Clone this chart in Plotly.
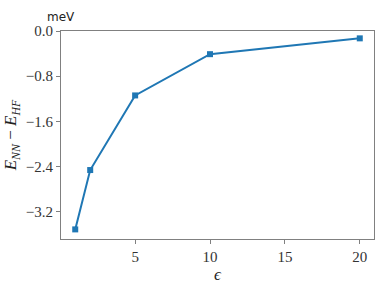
import plotly.graph_objects as go

eps = [1, 2, 5, 10, 20]
energy = [-3.51, -2.46, -1.14, -0.41, -0.13]
y_ticks = [0.0, -0.8, -1.6, -2.4, -3.2]
y_ticklabels = ["0.0", "\u22120.8", "\u22121.6", "\u22122.4", "\u22123.2"]
x_ticks = [5, 10, 15, 20]

fig = go.Figure()
fig.add_trace(go.Scatter(
    x=eps, y=energy, mode="lines+markers",
    line=dict(color="#1f77b4", width=2),
    marker=dict(symbol="square", size=6, color="#1f77b4"),
))

serif = "serif"
fig.update_layout(
    width=384, height=288,
    margin=dict(l=61, r=10, t=31, b=49),
    paper_bgcolor="white", plot_bgcolor="white",
    font=dict(family=serif, size=15, color="#333333"),
    showlegend=False,
    annotations=[dict(text="meV", xref="paper", yref="paper", x=0, y=1, xanchor="center",
                      yanchor="bottom", yshift=5, showarrow=False,
                      font=dict(family="Verdana, DejaVu Sans", size=12, color="#222"))],
)
for ax in (fig.layout.xaxis, fig.layout.yaxis):
    ax.showline = True
    ax.linecolor = "#808080"
    ax.linewidth = 1.2
    ax.mirror = True
    ax.showgrid = False
    ax.zeroline = False
    ax.ticks = "outside"
    ax.ticklen = 4
    ax.tickcolor = "#808080"
    ax.automargin = False
    ax.tickfont = dict(family="Times New Roman, Liberation Serif, serif", size=15, color="#333333")

fig.update_xaxes(range=[0.05, 20.95], tickvals=x_ticks,
                 title=dict(text="<i>\u03f5</i>", font=dict(family="Liberation Serif", size=17, color="#222"), standoff=4))
fig.update_yaxes(range=[-3.68, 0.0], tickvals=y_ticks, ticktext=y_ticklabels,
                 title=dict(text="<i>E</i><sub><i>NN</i></sub> \u2212 <i>E</i><sub><i>HF</i></sub>",
                            font=dict(family="Liberation Serif", size=17, color="#222"), standoff=4))
fig.write_html("out.html")
